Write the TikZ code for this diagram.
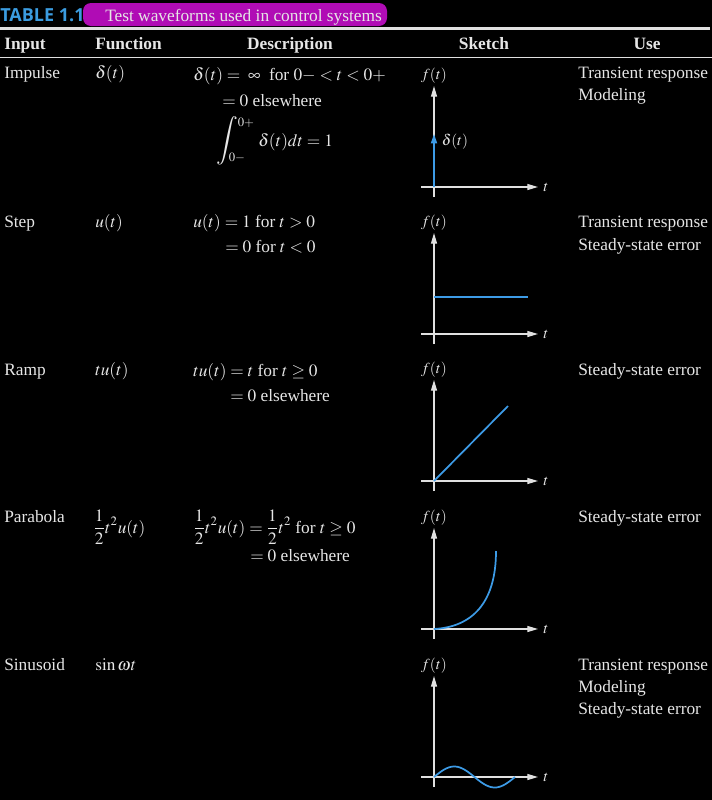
\documentclass[tikz,border=0pt]{standalone}
\usepackage{mathptmx}
\usepackage{fontspec}
\setmainfont{Liberation Serif}
\newfontfamily\tabfont{Open Sans}
\usetikzlibrary{arrows.meta}

\definecolor{txt}{HTML}{E6E6E6}
\definecolor{rulecol}{HTML}{E0E0E0}
\definecolor{tabblue}{HTML}{3B9CE0}
\definecolor{tabmag}{HTML}{B00CB5}
\definecolor{wavecol}{HTML}{3D9BE6}

\begin{document}
\begin{tikzpicture}[x=0.75pt, y=-0.75pt,
  every node/.style={text=txt, inner sep=0pt, font=\fontsize{13}{15}\selectfont},
  lbl/.style={anchor=base west},
  hdr/.style={anchor=base, font=\fontsize{13}{15}\selectfont\bfseries},
  sk/.style={font=\fontsize{11.5}{13}\selectfont},
  lim/.style={font=\fontsize{9.5}{11}\selectfont},
  axis/.style={draw=rulecol, line width=0.9pt, -{Triangle[length=8pt,width=4.5pt]}},
  wave/.style={draw=wavecol, line width=1.3pt}]

 \path[use as bounding box, fill=black] (0,0) rectangle (712,800);

 % title
 \fill[tabmag, rounded corners=6] (83,3) rectangle (387,26);
 \node[lbl, text=tabblue, font=\tabfont\bfseries\fontsize{13.5}{15}\selectfont] (tno) at (0,21) {TABLE 1.1};
 \node[lbl] (ttl) at (105,21) {Test waveforms used in control systems};
 \draw[rulecol, line width=2.2pt] (0,28.5) -- (710,28.5);
 \draw[rulecol, line width=1.2pt] (0,57.5) -- (712,57.5);

 % header
 \node[lbl, font=\fontsize{13}{15}\selectfont\bfseries] (hIn) at (4,49) {Input};
 \node[lbl, font=\fontsize{13}{15}\selectfont\bfseries] (hFn) at (95,49) {Function};
 \node[hdr] (hDs) at (290,49) {Description};
 \node[hdr] (hSk) at (484,49) {Sketch};
 \node[hdr] (hUs) at (647,49) {Use};

 % impulse
 \node[lbl] (in1) at (4,78) {Impulse};
 \node[lbl] (fn1) at (95,78) {$\delta(t)$};
 \node[lbl] (ds1a) at (193,80) {$\delta(t) =\;\infty$ \ for $0{-} < t < 0{+}$};
 \node[lbl] (ds1b) at (222,106) {$= 0$ elsewhere};
 \node (intg) at (227,141) {\scalebox{1.4}{$\displaystyle\int$}};
 \node[lim] (lmA) at (246,123) {$0{+}$};
 \node[lim] (lmB) at (237,158) {$0{-}$};
 \node[lbl] (ds1c) at (258,146) {$\delta(t)dt = 1$};
 \node[lbl] (us1a) at (578,78) {Transient response};
 \node[lbl] (us1b) at (578,100) {Modeling};

 % step
 \node[lbl] (in2) at (4,227) {Step};
 \node[lbl] (fn2) at (95,227) {$u(t)$};
 \node[lbl] (ds2a) at (193,227) {$u(t) = 1$ for $t > 0$};
 \node[lbl] (ds2b) at (225,252) {$= 0$ for $t < 0$};
 \node[lbl] (us2a) at (578,227) {Transient response};
 \node[lbl] (us2b) at (578,250) {Steady-state error};

 % ramp
 \node[lbl] (in3) at (4,375) {Ramp};
 \node[lbl] (fn3) at (95,375) {$tu(t)$};
 \node[lbl] (ds3a) at (193,376) {$tu(t) = t$ for $t \geq 0$};
 \node[lbl] (ds3b) at (230,401) {$= 0$ elsewhere};
 \node[lbl] (us3a) at (578,375) {Steady-state error};

 % parabola
 \node[lbl] (in4) at (4,522) {Parabola};
 \node[lbl] (fn4) at (93,533) {$\displaystyle\frac{1}{2}t^2u(t)$};
 \node[lbl] (ds4a) at (193,533) {$\displaystyle\frac{1}{2}t^2u(t) = \frac{1}{2}t^2$ for $t \geq 0$};
 \node[lbl] (ds4b) at (250,561) {$= 0$ elsewhere};
 \node[lbl] (us4a) at (578,522) {Steady-state error};

 % sinusoid
 \node[lbl] (in5) at (4,670) {Sinusoid};
 \node[lbl] (fn5) at (95,670) {$\sin\omega t$};
 \node[lbl] (us5a) at (578,670) {Transient response};
 \node[lbl] (us5b) at (578,692) {Modeling};
 \node[lbl] (us5c) at (578,714) {Steady-state error};

 % sketch axes
 \foreach \oy/\nm in {187/imp, 334/stp, 481/rmp, 629/par, 777/sin}{
  \begin{scope}[shift={(434,\oy)}]
   \draw[axis] (0,10) -- (0,-101);
   \draw[axis] (-13,0) -- (104,0);
   \node[sk] (f\nm) at (0,-111) {$f(t)$};
   \node[sk] (t\nm) at (112,0) {$t$};
  \end{scope}
 }

 % waveforms
 \begin{scope}[shift={(434,187)}]
  \draw[wave, -{Triangle[length=7pt,width=4.5pt]}] (0,0) -- (0,-53);
  \node[sk] (dl) at (21,-45) {$\delta(t)$};
 \end{scope}
 \begin{scope}[shift={(434,334)}]
  \draw[wave] (0,-37) -- (94,-37);
 \end{scope}
 \begin{scope}[shift={(434,481)}]
  \draw[wave] (0,0) -- (74,-75);
 \end{scope}
 \begin{scope}[shift={(434,629)}]
  \draw[wave] (0,0) .. controls (38,-2) and (62,-26) .. (62,-78);
 \end{scope}
 \begin{scope}[shift={(434,777)}]
  \draw[wave] plot[domain=0:81, samples=50, smooth] (\x, {-10.5*sin(4.4444*\x)});
 \end{scope}
\end{tikzpicture}
\end{document}
